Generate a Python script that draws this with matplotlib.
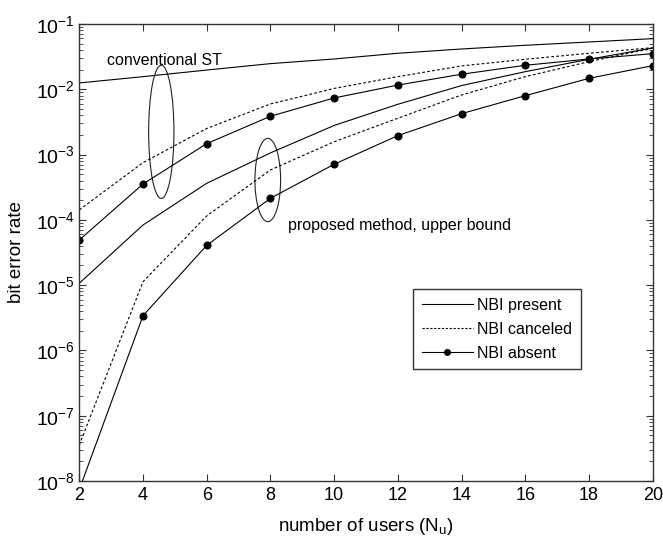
import numpy as np
import matplotlib
matplotlib.use("Agg")
import matplotlib.pyplot as plt
from matplotlib.patches import Ellipse
from matplotlib.lines import Line2D

plt.rcParams['font.family'] = ['Liberation Sans', 'DejaVu Sans']
plt.rcParams['mathtext.default'] = 'regular'

# number of users
users = [2, 4, 6, 8, 10, 12, 14, 16, 18, 20]

# conventional spreading technique (upper group)
conv_present = [1.25e-2, 1.56e-2, 1.97e-2, 2.47e-2, 2.91e-2, 3.56e-2, 4.14e-2, 4.72e-2, 5.30e-2, 5.96e-2]
conv_canceled = [1.42e-4, 7.52e-4, 2.51e-3, 5.96e-3, 1.03e-2, 1.56e-2, 2.28e-2, 2.88e-2, 3.56e-2, 4.34e-2]
conv_absent = [4.92e-5, 3.54e-4, 1.47e-3, 3.86e-3, 7.36e-3, 1.16e-2, 1.70e-2, 2.33e-2, 2.91e-2, 3.51e-2]

# proposed method, upper bound (lower group)
prop_present = [1.07e-5, 8.34e-5, 3.63e-4, 1.06e-3, 2.79e-3, 5.89e-3, 1.14e-2, 1.86e-2, 2.88e-2, 4.29e-2]
prop_canceled = [3.56e-8, 1.13e-5, 1.15e-4, 5.81e-4, 1.57e-3, 3.60e-3, 8.18e-3, 1.56e-2, 2.65e-2, 4.25e-2]
prop_absent = [7.4e-9, 3.40e-6, 4.07e-5, 2.14e-4, 7.10e-4, 1.95e-3, 4.23e-3, 7.98e-3, 1.47e-2, 2.30e-2]

xticks = [2, 4, 6, 8, 10, 12, 14, 16, 18, 20]
legend_labels = ['NBI present', 'NBI canceled', 'NBI absent']

fig = plt.figure(figsize=(6.63, 5.45), dpi=100)
ax = fig.add_axes([0.1196, 0.1174, 0.8649, 0.8386])

lw = 0.8
ink = 'black'
ax.plot(users, conv_present, '-', color=ink, lw=lw)
ax.plot(users, conv_canceled, '--', color=ink, lw=lw, dashes=(2.5, 2))
ax.plot(users, conv_absent, '-', color=ink, lw=lw, marker='o', ms=4.8)
ax.plot(users, prop_present, '-', color=ink, lw=lw)
ax.plot(users, prop_canceled, '--', color=ink, lw=lw, dashes=(2.5, 2))
ax.plot(users, prop_absent, '-', color=ink, lw=lw, marker='o', ms=4.8)

ax.set_yscale('log')
ax.set_xlim(2, 20)
ax.set_ylim(1e-8, 1e-1)
ax.set_xticks(xticks)
ax.set_xticklabels([str(t) for t in xticks])
ax.set_yticks([10.0 ** k for k in range(-8, 0)])

ax.tick_params(axis='both', which='both', direction='in', top=True, right=True,
               colors='#333333', labelcolor='black')
ax.tick_params(axis='x', which='major', length=5, labelsize=13, pad=4)
ax.tick_params(axis='y', which='major', length=5, labelsize=14, pad=3)
ax.tick_params(axis='y', which='minor', length=3)
ax.tick_params(axis='x', which='minor', bottom=False, top=False)
for s in ax.spines.values():
    s.set_color('#333333')
    s.set_linewidth(1.0)

ax.set_xlabel('number of users (N$_u$)', fontsize=13.5, labelpad=9)
ax.set_ylabel('bit error rate', fontsize=13.5, labelpad=8)

# grouping ellipses
for cx, cy, w, h in [(0.143, 0.764, 0.0441, 0.2917), (0.3287, 0.6586, 0.0448, 0.1823)]:
    ax.add_patch(Ellipse((cx, cy), w, h, transform=ax.transAxes, fill=False,
                         edgecolor='#222222', lw=0.8))

ax.text(0.0476, 0.9193, 'conventional ST', transform=ax.transAxes, fontsize=11.5,
        va='center', ha='left')
ax.text(0.3635, 0.5587, 'proposed method, upper bound', transform=ax.transAxes,
        fontsize=11.5, va='center', ha='left')

handles = [Line2D([], [], color=ink, lw=lw),
           Line2D([], [], color=ink, lw=lw, ls='--', dashes=(2, 1.5)),
           Line2D([], [], color=ink, lw=lw, marker='o', ms=4)]
leg = ax.legend(handles, legend_labels, loc='upper left', bbox_to_anchor=(0.5815, 0.4195),
                fontsize=11.5, frameon=True, fancybox=False, framealpha=1,
                edgecolor='#333333', handlelength=3.2, handletextpad=0.3,
                borderpad=0.55, labelspacing=0.55, borderaxespad=0, numpoints=1)
leg.get_frame().set_linewidth(1.0)

fig.savefig('out.png', dpi=100)
